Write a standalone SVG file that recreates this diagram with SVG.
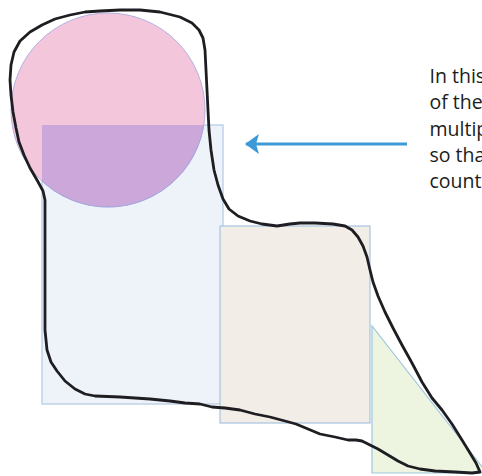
<svg xmlns="http://www.w3.org/2000/svg" width="482" height="476" viewBox="0 0 482 476">
<defs>
<style>
.box{stroke-width:1.2}
.outline{fill:none;stroke:#1e1e22;stroke-width:2.8;stroke-linejoin:round;stroke-linecap:round}
.note{font-family:"Open Sans","Lato",sans-serif;font-size:19.5px;fill:#1c1c1c}
</style>
<marker id="head" viewBox="0 0 14 20" refX="13" refY="10" markerWidth="14" markerHeight="20" markerUnits="userSpaceOnUse" orient="auto">
<path d="M0,0 L14,10 L0,20 L3,10 Z" fill="#3d9ad6"/>
</marker>
</defs>
<rect width="482" height="476" fill="#ffffff"/>
<g id="blue-rect">
<rect class="box" x="42" y="125" width="181" height="279" fill="#eef3fa" stroke="#b3c9e3"/>
</g>
<g id="beige-rect">
<rect class="box" x="220" y="226" width="150" height="197" fill="#f2ede6" stroke="#a7c3df"/>
</g>
<g id="green-triangle">
<path class="box" d="M372,326 L372,473 L487,473 Z" fill="#edf4df" stroke="#9fc6df"/>
</g>
<g id="pink-circle">
<circle cx="108" cy="110" r="97" fill="#f3c6dc" stroke="#b4b0e2" stroke-width="1"/>
<path d="M42,125 L203.8,125 A97,97 0 0,1 42,181.1 Z" fill="#cba7da"/>
<path d="M203.8,125 A97,97 0 0,1 42,181.1" fill="none" stroke="#a4a8e0" stroke-width="1"/>
</g>
<g id="outline">
<path class="outline" d="M100,11 L120,10 L140,10 L160,12 L180,17 L192,23 L199,30 L203,38 L205,50 L206,70 L207,90 L208,110 L209,130 L211,150 L214,170 L218,185 L223,199 L229,209 L238,216 L250,221 L262,224 L277,226 L290,224 L300,223 L315,223 L333,224 L345,226 L352,230 L358,237 L363,246 L367,257 L370,270 L373,282 L378,296 L385,312 L393,328 L402,345 L412,363 L422,382 L432,398 L442,410 L452,424 L462,440 L470,453 L476,463 L480,472 L472,473 L455,472 L435,471 L420,469 L408,466 L398,461 L388,455 L378,449 L370,445 L362,441 L356,440 L348,440 L335,437 L320,434 L308,429 L296,424 L285,421 L270,417 L255,414 L240,410 L225,408 L212,407 L200,404 L185,403 L170,401 L150,399 L120,397 L95,396 L85,394 L75,389 L65,381 L57,371 L51,362 L47,350 L45,330 L45,300 L45,260 L45,230 L45,200 L43,191 L37,180 L30,168 L24,155 L19,142 L16,128 L13,112 L11,95 L10,80 L11,65 L14,52 L20,41 L30,32 L42,25 L55,19 L70,15 L85,12 Z"/>
</g>
<g id="connectors">
<line x1="407" y1="144" x2="246" y2="144" stroke="#3d9ad6" stroke-width="3.2" marker-end="url(#head)"/>
</g>
<g id="note">
<text class="note" x="429.5" y="83">In this</text>
<text class="note" x="429.5" y="109">of the</text>
<text class="note" x="429.5" y="136">multip</text>
<text class="note" x="429.5" y="162">so tha</text>
<text class="note" x="429.5" y="188">count</text>
</g>
</svg>
